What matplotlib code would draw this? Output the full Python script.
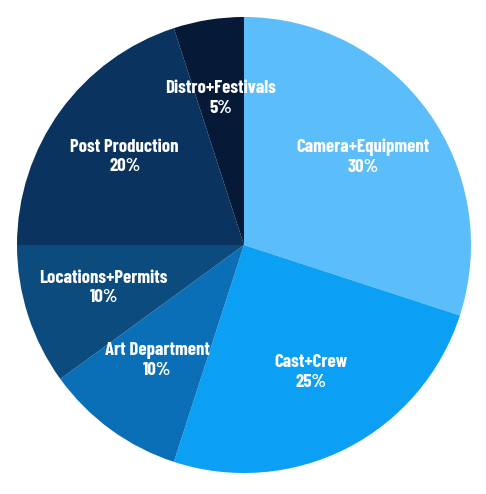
import numpy as np
import matplotlib as mpl
from matplotlib import pyplot as plt
from matplotlib import font_manager

categories = [
    "Camera+Equipment",
    "Cast+Crew",
    "Art Department",
    "Locations+Permits",
    "Post Production",
    "Distro+Festivals",
]
shares = [30, 25, 10, 10, 20, 5]
colors = ["#5bbefa", "#0ca0f5", "#0a6fb6", "#0b4b7e", "#0a335f", "#061a38"]

# condensed bold look: use a narrow family if the box has one
names = {f.name for f in font_manager.fontManager.ttflist}
if "Barlow Condensed" in names:
    label_font = ["Barlow Condensed", "DejaVu Sans"]
    label_size = 13.5
else:
    label_font = ["DejaVu Sans"]
    label_size = 10
mpl.rcParams["font.family"] = label_font

fig = plt.figure(figsize=(4.86, 4.94), dpi=100)
ax = fig.add_axes([0.0, 0.0, 1.0, 1.0])

labels = [f"{c}\n{s}%" for c, s in zip(categories, shares)]
wedges, texts = ax.pie(
    shares,
    colors=colors,
    startangle=90,
    counterclock=False,
    radius=1.0,
    center=(0, 0),
    wedgeprops={"linewidth": 0},
)
for w, lab in zip(wedges, labels):
    ang = np.deg2rad((w.theta1 + w.theta2) / 2)
    ax.text(
        0.65 * np.cos(ang), 0.64 * np.sin(ang) + 0.01, lab,
        ha="center", va="center", color="white",
        fontsize=label_size, fontweight="bold",
        linespacing=1.2,
    )

# pie spans x 17..471, y 17..473 of 486x494 px
ax.set_xlim(-1.0 - 17 / 227, 1.0 + 15 / 227)
ax.set_ylim(-1.0 - 21 / 228, 1.0 + 17 / 228)
ax.set_aspect("auto")
ax.axis("off")

plt.savefig("out.png", dpi=100)
